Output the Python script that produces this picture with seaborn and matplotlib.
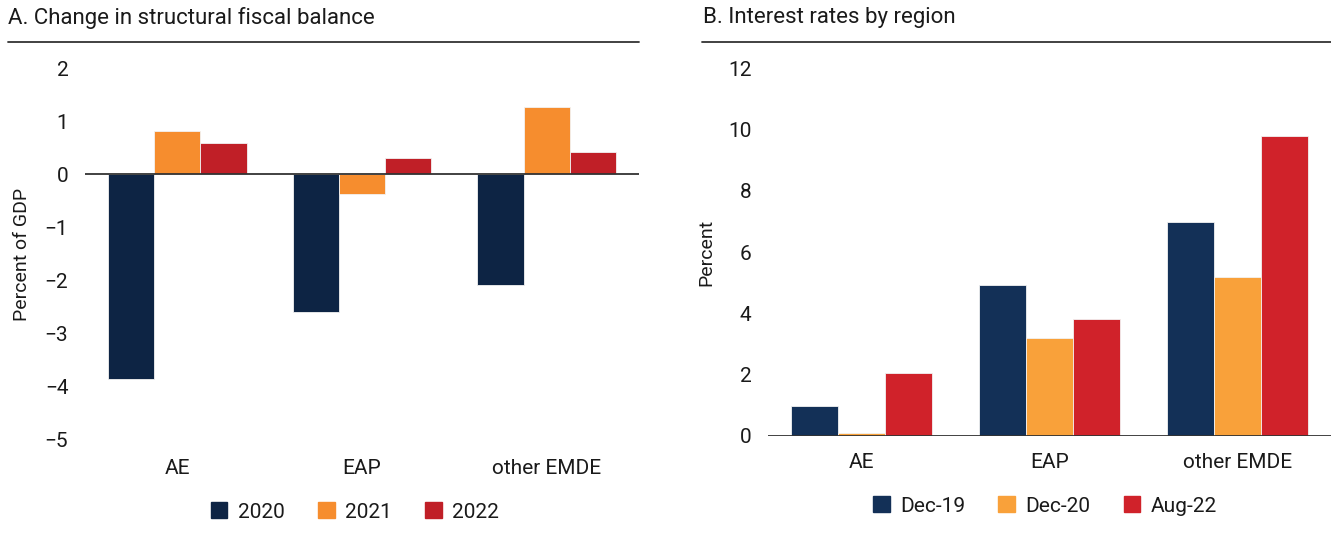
import matplotlib
matplotlib.use('Agg')
import matplotlib.pyplot as plt
import matplotlib.lines as mlines
import pandas as pd
import seaborn as sns

REGIONS = ['AE', 'EAP', 'other EMDE']

# Panel A: change in structural fiscal balance (percent of GDP)
YEARS = ['2020', '2021', '2022']
FISCAL_2020 = [-3.85, -2.6, -2.09]
FISCAL_2021 = [0.81, -0.38, 1.26]
FISCAL_2022 = [0.58, 0.30, 0.42]
FISCAL_COLORS = ['#0d2444', '#f68d2e', '#c01f27']

# Panel B: interest rates by region (percent)
DATES = ['Dec-19', 'Dec-20', 'Aug-22']
RATE_DEC19 = [0.98, 4.92, 6.97]
RATE_DEC20 = [0.10, 3.19, 5.18]
RATE_AUG22 = [2.05, 3.81, 9.77]
RATE_COLORS = ['#133057', '#f9a13a', '#d0222a']

sns.set_theme(style='white')
plt.rcParams['font.family'] = ['Roboto', 'DejaVu Sans']
plt.rcParams['text.color'] = '#1a1a1a'
plt.rcParams['xtick.color'] = '#1a1a1a'
plt.rcParams['ytick.color'] = '#1a1a1a'
plt.rcParams['axes.labelcolor'] = '#1a1a1a'


def long_frame(series, names, col):
    rows = []
    for name, vals in zip(names, series):
        for region, v in zip(REGIONS, vals):
            rows.append({'region': region, col: name, 'value': v})
    return pd.DataFrame(rows)


def draw_panel(ax, df, col, names, colors, ylim, ticks, ylabel, xpad, ypad):
    sns.barplot(data=df, x='region', y='value', hue=col, hue_order=names,
                palette=colors, order=REGIONS, width=0.75, ax=ax,
                edgecolor='#f2f2f2', linewidth=0.6, saturation=1, legend=False)
    ax.set_xlim(-0.5, 2.5)
    ax.set_ylim(*ylim)
    ax.set_yticks(ticks)
    ax.set_yticklabels([str(t).replace('-', '\u2212') for t in ticks], fontsize=15)
    ax.axhline(0, color='#333333', linewidth=1.3, zorder=5)
    for s in ax.spines.values():
        s.set_visible(False)
    ax.tick_params(axis='y', length=0, pad=12)
    ax.tick_params(axis='x', length=0, pad=xpad, labelsize=15)
    ax.set_xlabel('')
    ax.set_ylabel(ylabel, fontsize=14, labelpad=ypad)
    ax.grid(False)


fig = plt.figure(figsize=(13.31, 5.33), dpi=100)

ax1 = fig.add_axes([0.0639, 0.1745, 0.4162, 0.6979])
df1 = long_frame([FISCAL_2020, FISCAL_2021, FISCAL_2022], YEARS, 'year')
draw_panel(ax1, df1, 'year', YEARS, FISCAL_COLORS, (-5, 2), list(range(-5, 3)), 'Percent of GDP', 14, 10)

ax2 = fig.add_axes([0.577, 0.182, 0.423, 0.6904])
df2 = long_frame([RATE_DEC19, RATE_DEC20, RATE_AUG22], DATES, 'date')
draw_panel(ax2, df2, 'date', DATES, RATE_COLORS, (0, 12), list(range(0, 13, 2)), 'Percent', 12, 9)

# Titles and header rules
fig.text(8 / 1331, 1 - 18 / 533, 'A. Change in structural fiscal balance', fontsize=16, va='center', ha='left')
fig.text(703 / 1331, 1 - 18 / 533, 'B. Interest rates by region', fontsize=16, va='center', ha='left')
fig.add_artist(mlines.Line2D([8 / 1331, 639 / 1331], [1 - 42 / 533] * 2, color='#333333', linewidth=1.3))
fig.add_artist(mlines.Line2D([702 / 1331, 1.0], [1 - 42 / 533] * 2, color='#333333', linewidth=1.3))

# Legends
legend_kw = dict(loc='center', ncol=3, frameon=False, fontsize=15, handlelength=0.8,
                 handleheight=0.8, columnspacing=1.6, handletextpad=0.5)
h1 = [plt.Rectangle((0, 0), 1, 1, color=c) for c in FISCAL_COLORS]
fig.legend(h1, YEARS, bbox_to_anchor=(355 / 1331, 1 - 512 / 533), **legend_kw)
h2 = [plt.Rectangle((0, 0), 1, 1, color=c) for c in RATE_COLORS]
fig.legend(h2, DATES, bbox_to_anchor=(1045 / 1331, 1 - 506 / 533), **legend_kw)

fig.savefig('out.png', dpi=100)
